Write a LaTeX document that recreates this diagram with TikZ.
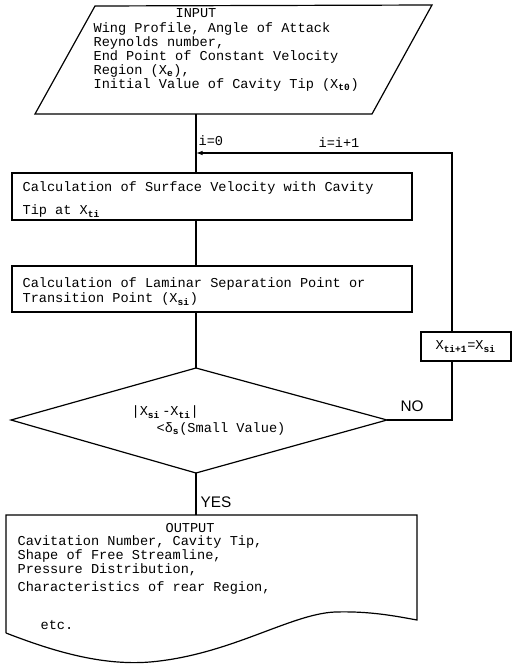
\documentclass[tikz,border=0pt]{standalone}
\usepackage{fontspec}
\setmonofont{Liberation Mono}
\setsansfont{Liberation Sans}
\usetikzlibrary{arrows.meta,fit}
\newcommand{\sbs}[1]{\textsubscript{\bfseries #1}}
\begin{document}
\begin{tikzpicture}[x=0.75pt,y=-0.75pt,line width=0.9pt,
  tt/.style={font=\ttfamily\fontsize{10.2}{12}\selectfont, inner sep=0pt, anchor=mid west},
  sf/.style={font=\sffamily\fontsize{11.5}{13}\selectfont, inner sep=0pt, anchor=mid west},
  box/.style={draw, inner sep=0pt},
  arr/.style={-{Latex[length=5pt,width=3.5pt]}}]
\useasboundingbox (0,0) rectangle (514,664);

% input parallelogram
\coordinate (i1) at (95,6);
\coordinate (i2) at (432,5);
\coordinate (i3) at (372,114);
\coordinate (i4) at (35,114);
\draw (i1) -- (i2) -- (i3) -- (i4) -- cycle;
\node[tt] (inT) at (175,15) {INPUT};
\node[tt] (in1) at (93,30) {Wing Profile, Angle of Attack};
\node[tt] (in2) at (93,44) {Reynolds number,};
\node[tt] (in3) at (93,58) {End Point of Constant Velocity};
\node[tt] (in4) at (93,72) {Region (X\sbs{e}),};
\node[tt] (in5) at (93,86) {Initial Value of Cavity Tip (X\sbs{t0})};

\coordinate (inb) at (196,114);
\coordinate (mg) at (196,153);
\coordinate (lp) at (452,153);

% calc boxes
\node[box, fit={(12,173)(412,220)}] (c1) {};
\node[tt] (c1a) at (22,189) {Calculation of Surface Velocity with Cavity};
\node[tt] (c1b) at (22,212) {Tip at X\sbs{ti}};

\node[box, fit={(12,266)(412,312)}] (c2) {};
\node[tt] (c2a) at (22,285) {Calculation of Laminar Separation Point or};
\node[tt] (c2b) at (22,300) {Transition Point (X\sbs{si})};

\node[tt] (i0) at (198,143) {i=0};
\node[tt] (ii) at (318,145) {i=i+1};

% diamond
\coordinate (dt) at (196,368);
\coordinate (dl) at (11,420);
\coordinate (dr) at (387,420);
\coordinate (db) at (196,473);
\draw (dt) -- (dr) -- (db) -- (dl) -- cycle;
\node[tt] (d1) at (131,413) {|X\sbs{si}\,-X\sbs{ti}|};
\node[tt] (d2) at (156,430) {<δ\sbs{s}(Small Value)};

% update box
\node[box, fit={(421,332)(511,361)}] (xb) {};
\node[tt] (xbt) at (435,347) {X\sbs{ti+1}=X\sbs{si}};

\node[sf] (no) at (400,409) {NO};
\node[sf] (yes) at (200,505) {YES};

% output document shape
\coordinate (o1) at (6,515);
\coordinate (o2) at (417,515);
\coordinate (o3) at (417,620);
\coordinate (o4) at (6,633);
\draw (o4) -- (o1) -- (o2) -- (o3)
  .. controls (395,616) and (370,611) .. (335,612)
  .. controls (290,614) and (230,655) .. (150,662)
  .. controls (100,666) and (50,650) .. (o4);
\node[tt] (oT) at (165,530) {OUTPUT};
\node[tt] (o5) at (17,543) {Cavitation Number, Cavity Tip,};
\node[tt] (o6) at (17,557) {Shape of Free Streamline,};
\node[tt] (o7) at (17,571) {Pressure Distribution,};
\node[tt] (o8) at (17,589) {Characteristics of rear Region,};
\node[tt] (o9) at (40,627) {etc.};

% connectors
\draw (inb) -- (c1.north -| inb);
\draw (c1.south -| inb) -- (c2.north -| inb);
\draw (c2.south -| inb) -- (dt);
\draw (db) -- (db |- o1);
\draw (dr) -- (dr -| lp) -- (xb.south -| lp);
\draw[arr] (xb.north -| lp) -- (lp) -- (mg);
\end{tikzpicture}
\end{document}
